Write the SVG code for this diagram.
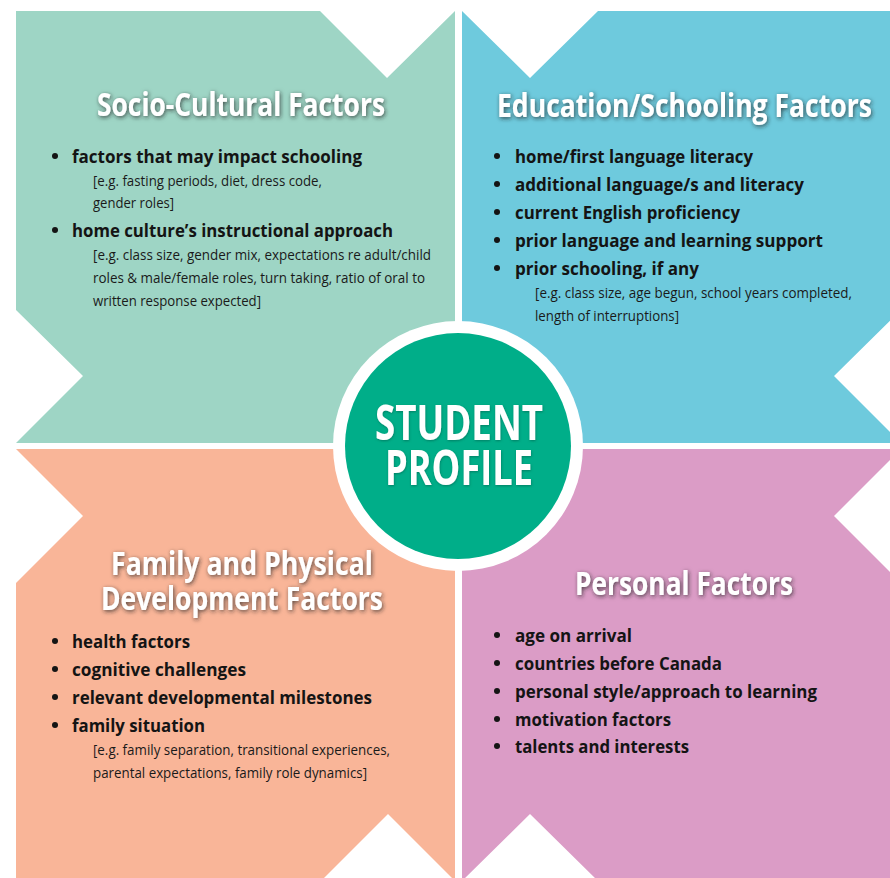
<svg xmlns="http://www.w3.org/2000/svg" width="890" height="878" viewBox="0 0 890 878">
<style>
.title{font-family:"Open Sans","Liberation Sans",sans-serif;font-weight:700;font-size:32px;fill:#ffffff;filter:url(#glow)}
.center{font-family:"Open Sans","Liberation Sans",sans-serif;font-weight:700;font-size:48px;fill:#ffffff;filter:url(#soft)}
.item{font-family:"Open Sans","Liberation Sans",sans-serif;font-weight:700;font-size:18px;fill:#141414}
.sub{font-family:"Open Sans","Liberation Sans",sans-serif;font-weight:400;font-size:14.5px;fill:#1a1a1a}
.dot{fill:#141414}
</style>
<defs>
<filter id="glow" x="-10%" y="-40%" width="120%" height="180%">
<feDropShadow dx="1" dy="1.5" stdDeviation="2.2" flood-color="#222" flood-opacity="0.75"/>
</filter>
<filter id="soft" x="-10%" y="-30%" width="120%" height="160%">
<feDropShadow dx="0.5" dy="1" stdDeviation="1.2" flood-color="#004d3c" flood-opacity="0.5"/>
</filter>
</defs>
<rect width="890" height="878" fill="#ffffff"/>

<g id="socio-cultural">
<path d="M16,11 H320 L387,78 L455,11 V443 H16 L83,376 L16,310 Z" fill="#9ed5c5"/>
<text class="title" x="97" y="116" textLength="288" lengthAdjust="spacingAndGlyphs">Socio-Cultural Factors</text>
<circle class="dot" cx="55" cy="156" r="3"/>
<text class="item" x="72" y="163" textLength="290" lengthAdjust="spacingAndGlyphs">factors that may impact schooling</text>
<text class="sub" x="93" y="186" textLength="229" lengthAdjust="spacingAndGlyphs">[e.g. fasting periods, diet, dress code,</text>
<text class="sub" x="93" y="208" textLength="81" lengthAdjust="spacingAndGlyphs">gender roles]</text>
<circle class="dot" cx="55" cy="230" r="3"/>
<text class="item" x="72" y="237" textLength="321" lengthAdjust="spacingAndGlyphs">home culture’s instructional approach</text>
<text class="sub" x="93" y="260" textLength="338" lengthAdjust="spacingAndGlyphs">[e.g. class size, gender mix, expectations re adult/child</text>
<text class="sub" x="93" y="283" textLength="332" lengthAdjust="spacingAndGlyphs">roles &amp; male/female roles, turn taking, ratio of oral to</text>
<text class="sub" x="93" y="306" textLength="168" lengthAdjust="spacingAndGlyphs">written response expected]</text>
</g>

<g id="education-schooling">
<path d="M462,11 L530,78 L598,11 H901 V310 L834,376 L901,443 H462 Z" fill="#6ecadd"/>
<text class="title" x="497" y="117" textLength="375" lengthAdjust="spacingAndGlyphs">Education/Schooling Factors</text>
<circle class="dot" cx="497" cy="156" r="3"/>
<text class="item" x="515" y="163" textLength="238" lengthAdjust="spacingAndGlyphs">home/first language literacy</text>
<circle class="dot" cx="497" cy="184" r="3"/>
<text class="item" x="515" y="191" textLength="289" lengthAdjust="spacingAndGlyphs">additional language/s and literacy</text>
<circle class="dot" cx="497" cy="212" r="3"/>
<text class="item" x="515" y="219" textLength="225" lengthAdjust="spacingAndGlyphs">current English proficiency</text>
<circle class="dot" cx="497" cy="240" r="3"/>
<text class="item" x="515" y="247" textLength="308" lengthAdjust="spacingAndGlyphs">prior language and learning support</text>
<circle class="dot" cx="497" cy="268" r="3"/>
<text class="item" x="515" y="275" textLength="184" lengthAdjust="spacingAndGlyphs">prior schooling, if any</text>
<text class="sub" x="535" y="298" textLength="317" lengthAdjust="spacingAndGlyphs">[e.g. class size, age begun, school years completed,</text>
<text class="sub" x="535" y="321" textLength="144" lengthAdjust="spacingAndGlyphs">length of interruptions]</text>
</g>

<g id="family-physical">
<path d="M16,449 H455 V881 L388,814 L321,881 H16 V583 L83,516 Z" fill="#f9b598"/>
<text class="title" x="111" y="575" textLength="262" lengthAdjust="spacingAndGlyphs">Family and Physical</text>
<text class="title" x="101" y="610" textLength="282" lengthAdjust="spacingAndGlyphs">Development Factors</text>
<circle class="dot" cx="55" cy="641" r="3"/>
<text class="item" x="72" y="648" textLength="118" lengthAdjust="spacingAndGlyphs">health factors</text>
<circle class="dot" cx="55" cy="669" r="3"/>
<text class="item" x="72" y="676" textLength="174" lengthAdjust="spacingAndGlyphs">cognitive challenges</text>
<circle class="dot" cx="55" cy="697" r="3"/>
<text class="item" x="72" y="704" textLength="300" lengthAdjust="spacingAndGlyphs">relevant developmental milestones</text>
<circle class="dot" cx="55" cy="725" r="3"/>
<text class="item" x="72" y="732" textLength="133" lengthAdjust="spacingAndGlyphs">family situation</text>
<text class="sub" x="93" y="755" textLength="297" lengthAdjust="spacingAndGlyphs">[e.g. family separation, transitional experiences,</text>
<text class="sub" x="93" y="778" textLength="274" lengthAdjust="spacingAndGlyphs">parental expectations, family role dynamics]</text>
</g>

<g id="personal">
<path d="M462,449 H901 L834,516 L901,583 V881 H598 L530,814 L462,881 Z" fill="#db9cc6"/>
<text class="title" x="575" y="595" textLength="218" lengthAdjust="spacingAndGlyphs">Personal Factors</text>
<circle class="dot" cx="497" cy="635" r="3"/>
<text class="item" x="515" y="642" textLength="117" lengthAdjust="spacingAndGlyphs">age on arrival</text>
<circle class="dot" cx="497" cy="663" r="3"/>
<text class="item" x="515" y="670" textLength="207" lengthAdjust="spacingAndGlyphs">countries before Canada</text>
<circle class="dot" cx="497" cy="691" r="3"/>
<text class="item" x="515" y="698" textLength="302" lengthAdjust="spacingAndGlyphs">personal style/approach to learning</text>
<circle class="dot" cx="497" cy="719" r="3"/>
<text class="item" x="515" y="726" textLength="156" lengthAdjust="spacingAndGlyphs">motivation factors</text>
<circle class="dot" cx="497" cy="746" r="3"/>
<text class="item" x="515" y="753" textLength="174" lengthAdjust="spacingAndGlyphs">talents and interests</text>
</g>

<g id="student-profile">
<circle cx="458" cy="446" r="125" fill="#ffffff"/>
<circle cx="458" cy="446" r="113" fill="#00ae89"/>
<text class="center" x="375" y="440" textLength="168" lengthAdjust="spacingAndGlyphs">STUDENT</text>
<text class="center" x="385" y="485" textLength="148" lengthAdjust="spacingAndGlyphs">PROFILE</text>
</g>

<g id="connectors"/>
</svg>
